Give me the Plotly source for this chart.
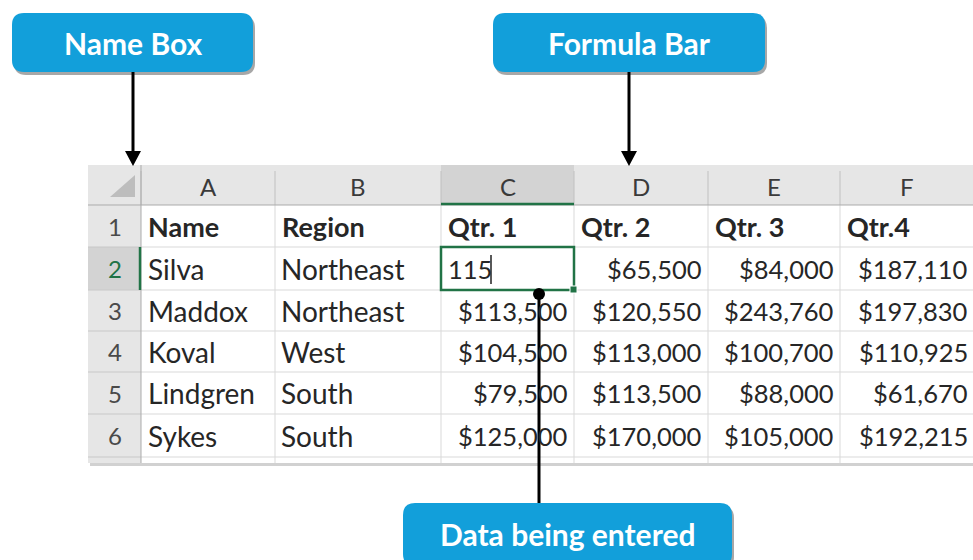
import plotly.graph_objects as go

# ---------------- data ----------------
col_letters = ["A", "B", "C", "D", "E", "F"]
row_numbers = [1, 2, 3, 4, 5, 6]
header_labels = ["Name", "Region", "Qtr. 1", "Qtr. 2", "Qtr. 3", "Qtr.4"]
names = ["Silva", "Maddox", "Koval", "Lindgren", "Sykes"]
regions = ["Northeast", "Northeast", "West", "South", "South"]
qtr1 = [115, 113500, 104500, 79500, 125000]
qtr2 = [65500, 120550, 113000, 113500, 170000]
qtr3 = [84000, 243760, 100700, 88000, 105000]
qtr4 = [187110, 197830, 110925, 61670, 192215]
callout_labels = ["Name Box", "Formula Bar", "Data being entered"]

# ---------------- layout constants ----------------
W, H = 973, 560
col_edges = [88, 141, 275, 441, 574, 708, 840, 973]
row_edges = [165, 205, 247, 290, 331, 372, 414, 457, 463]
FONT = "Lato, 'Open Sans', sans-serif"
TXT = "#262626"
GRID = "#D9D9D9"
HDR_BG = "#E6E6E6"
SEL_BG = "#D3D3D3"
GREEN = "#217346"
BLUE = "#129FDA"
TEXT_SIZE = 28
NUM_SIZE = 25.5

shapes = []
ann = []


def rect(x0, y0, x1, y1, fill, line=None, lw=0, layer="below"):
    shapes.append(dict(type="rect", xref="x", yref="y", x0=x0, y0=y0, x1=x1, y1=y1,
                       fillcolor=fill, line=dict(width=lw, color=line or fill), layer=layer))


def line(x0, y0, x1, y1, color, w=1, layer="below"):
    shapes.append(dict(type="line", xref="x", yref="y", x0=x0, y0=y0, x1=x1, y1=y1,
                       line=dict(color=color, width=w), layer=layer))


def text(x, y, s, anchor="center", size=TEXT_SIZE, color=TXT, bold=False):
    ann.append(dict(x=x, y=y, xref="x", yref="y", text=f"<b>{s}</b>" if bold else s,
                    showarrow=False, xanchor=anchor, yanchor="middle",
                    font=dict(family=FONT, size=size, color=color)))


def rounded(x0, y0, x1, y1, r, fill, layer="above"):
    p = (f"M{x0+r},{y0} L{x1-r},{y0} Q{x1},{y0} {x1},{y0+r} L{x1},{y1-r} Q{x1},{y1} {x1-r},{y1} "
         f"L{x0+r},{y1} Q{x0},{y1} {x0},{y1-r} L{x0},{y0+r} Q{x0},{y0} {x0+r},{y0} Z")
    shapes.append(dict(type="path", xref="x", yref="y", path=p, fillcolor=fill,
                       line=dict(width=0), layer=layer))


# table shadow
rect(col_edges[0] + 2, row_edges[-1] - 2, W, row_edges[-1] + 3, "rgba(0,0,0,0.18)")
# body background
rect(col_edges[1], row_edges[1], W, row_edges[-1], "white")
# header row & row-number column
rect(col_edges[0], row_edges[0], W, row_edges[1], HDR_BG)
rect(col_edges[0], row_edges[0], col_edges[1], row_edges[-1], HDR_BG)
# selected column header C and row header 2
rect(col_edges[3], row_edges[0], col_edges[4], row_edges[1], SEL_BG)
rect(col_edges[0], row_edges[2], col_edges[1], row_edges[3], SEL_BG)

# grid lines in body
for x in col_edges[2:-1]:
    line(x, row_edges[1], x, row_edges[-1], GRID)
for y in row_edges[2:-1]:
    line(col_edges[1], y, W, y, GRID)
# row header separators
for y in row_edges[2:-1]:
    line(col_edges[0], y, col_edges[1], y, "#C8C8C8")
# header separators
for x in col_edges[1:-1]:
    line(x, row_edges[0] + 6, x, row_edges[1], "#C0C0C0")
line(col_edges[0], row_edges[1], W, row_edges[1], "#ABABAB")
line(col_edges[1], row_edges[0], col_edges[1], row_edges[-1], "#ABABAB")
# selection indicators
line(col_edges[3], row_edges[1] - 1, col_edges[4], row_edges[1] - 1, GREEN, 2.5)
line(col_edges[1] - 1, row_edges[2], col_edges[1] - 1, row_edges[3], GREEN, 2.5)

# corner triangle
shapes.append(dict(type="path", xref="x", yref="y",
                   path=f"M{col_edges[1]-6},{row_edges[0]+10} L{col_edges[1]-6},{row_edges[1]-8} L{col_edges[1]-31},{row_edges[1]-8} Z",
                   fillcolor="#BDBDBD", line=dict(width=0), layer="below"))

# column letters
for i, c in enumerate(col_letters):
    xc = (col_edges[i + 1] + col_edges[i + 2]) / 2
    text(xc, (row_edges[0] + row_edges[1]) / 2 + 1, c, size=24, color="#3A3A3A")
# row numbers
for j, n in enumerate(row_numbers):
    yc = (row_edges[j + 1] + row_edges[j + 2]) / 2
    text((col_edges[0] + col_edges[1]) / 2, yc, str(n), size=24,
         color=GREEN if n == 2 else "#4A4A4A")

# header labels row 1
yc1 = (row_edges[1] + row_edges[2]) / 2
for i, lab in enumerate(header_labels):
    text(col_edges[i + 1] + 5, yc1, lab, anchor="left", bold=True, size=27)


def money(v):
    return f"${v:,.0f}"


for j in range(len(names)):
    yc = (row_edges[j + 2] + row_edges[j + 3]) / 2
    text(col_edges[1] + 5, yc, names[j], anchor="left")
    text(col_edges[2] + 4, yc, regions[j], anchor="left")
    if j == 0:
        text(col_edges[3] + 5, yc, str(qtr1[j]), anchor="left", size=NUM_SIZE)
    else:
        text(col_edges[4] - 4, yc, money(qtr1[j]), anchor="right", size=NUM_SIZE)
    text(col_edges[5] - 4, yc, money(qtr2[j]), anchor="right", size=NUM_SIZE)
    text(col_edges[6] - 4, yc, money(qtr3[j]), anchor="right", size=NUM_SIZE)
    text(col_edges[7] - 3, yc, money(qtr4[j]), anchor="right", size=NUM_SIZE)

# text cursor after "115"
line(col_edges[3] + 50, row_edges[2] + 8, col_edges[3] + 50, row_edges[3] - 6, "#222222", 1.5, "above")
# active cell border and fill handle
rect(col_edges[3], row_edges[2], col_edges[4], row_edges[3], "rgba(0,0,0,0)", GREEN, 2.5, "above")
rect(col_edges[4] - 4, row_edges[3] - 4, col_edges[4] + 3, row_edges[3] + 3, GREEN, "white", 1, "above")

# ---------------- callouts ----------------
boxes = [(12, 13, 253, 72), (493, 13, 765, 72), (403, 503, 732, 566)]
for (x0, y0, x1, y1), lab in zip(boxes, callout_labels):
    rounded(x0 + 2, y0 + 3, x1 + 2, y1 + 3, 12, "rgba(60,60,60,0.45)")
    rounded(x0, y0, x1, y1, 12, BLUE)
    yc = (y0 + y1) / 2 if y1 <= H else (y0 + H) / 2 + 2
    text((x0 + x1) / 2, yc, lab, size=30, color="white", bold=True)

# arrows
for ax in [133, 629]:
    line(ax, 72, ax, 152, "black", 3, "above")
    shapes.append(dict(type="path", xref="x", yref="y",
                       path=f"M{ax-8},{151} L{ax+8},{151} L{ax},{166} Z",
                       fillcolor="black", line=dict(width=0), layer="above"))
# data being entered pointer
line(539, 294, 539, 503, "black", 3, "above")
shapes.append(dict(type="circle", xref="x", yref="y", x0=533, y0=288, x1=545, y1=300,
                   fillcolor="black", line=dict(width=0), layer="above"))

fig = go.Figure()
fig.add_trace(go.Scatter(x=[0, W], y=[0, H], mode="markers", marker=dict(opacity=0),
                         hoverinfo="skip", showlegend=False))
fig.update_layout(
    width=W, height=H, margin=dict(l=0, r=0, t=0, b=0),
    paper_bgcolor="white", plot_bgcolor="white",
    xaxis=dict(range=[0, W], visible=False, fixedrange=True),
    yaxis=dict(range=[H, 0], visible=False, fixedrange=True),
    shapes=shapes, annotations=ann, showlegend=False,
)
fig.write_html("out.html", config={"displayModeBar": False},
               post_script="document.body.style.margin='0';document.body.style.overflow='hidden';")
